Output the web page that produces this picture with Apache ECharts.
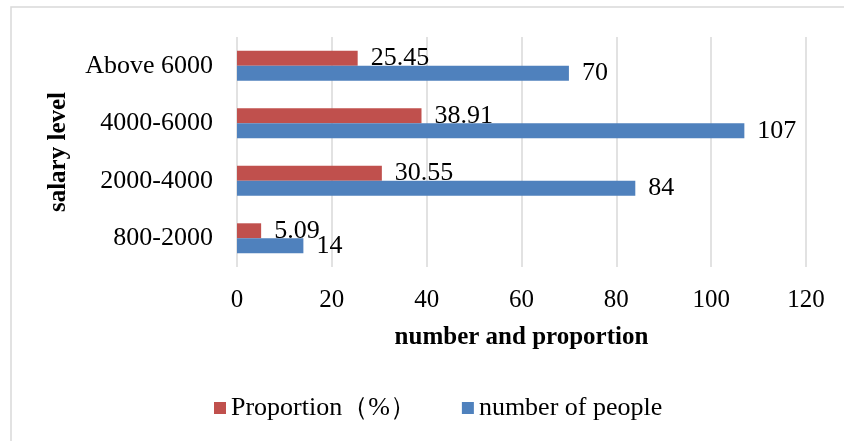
<!DOCTYPE html>
<html>
<head>
<meta charset="utf-8">
<script src="https://cdn.jsdelivr.net/npm/echarts@6/dist/echarts.min.js"></script>
<style>
  html, body { margin: 0; padding: 0; background: #fff; }
  #chart { width: 844px; height: 441px; }
</style>
</head>
<body>
<div id="chart"></div>
<script>
// salary levels, bottom to top
const categories = ['800-2000', '2000-4000', '4000-6000', 'Above 6000']
const proportion = [5.09, 30.55, 38.91, 25.45]
const people = [14, 84, 107, 70]
const xTicks = [0, 20, 40, 60, 80, 100, 120]

const serif = '"Liberation Serif", "Times New Roman", serif'
const red = '#C0504D'
const blue = '#4F81BD'

const chart = echarts.init(document.getElementById('chart'))

const barLabel = {
  show: true,
  position: 'right',
  distance: 13,
  color: '#000',
  fontFamily: serif,
  fontSize: 26
}

chart.setOption({
  animation: false,
  graphic: [{
    type: 'rect',
    shape: { x: 11, y: 7, width: 900, height: 500 },
    style: { fill: 'none', stroke: '#d9d9d9', lineWidth: 1.5 },
    silent: true
  }],
  grid: { left: 237, right: 38, top: 37, bottom: 174 },
  legend: {
    data: ['Proportion（%）', 'number of people'],
    left: 209,
    top: 390,
    icon: 'rect',
    itemWidth: 12,
    itemHeight: 12,
    itemGap: 46,
    textStyle: { fontFamily: serif, fontSize: 26, color: '#000' }
  },
  xAxis: {
    type: 'value',
    min: xTicks[0],
    max: xTicks[xTicks.length - 1],
    interval: 20,
    name: 'number and proportion',
    nameLocation: 'middle',
    nameGap: 58,
    nameTextStyle: { fontFamily: serif, fontSize: 25, fontWeight: 'bold', color: '#000' },
    axisLine: { show: false },
    axisTick: { show: false },
    axisLabel: { margin: 21, fontFamily: serif, fontSize: 25, color: '#000' },
    splitLine: { show: true, lineStyle: { color: '#d9d9d9', width: 1.5 } }
  },
  yAxis: {
    type: 'category',
    data: categories,
    name: 'salary level',
    nameLocation: 'middle',
    nameGap: 166,
    nameTextStyle: { fontFamily: serif, fontSize: 25, fontWeight: 'bold', color: '#000' },
    axisLine: { show: false },
    axisTick: { show: false },
    axisLabel: { margin: 24, fontFamily: serif, fontSize: 26, color: '#000' }
  },
  series: [
    {
      name: 'Proportion（%）',
      type: 'bar',
      data: proportion,
      itemStyle: { color: red },
      barGap: '0%',
      barCategoryGap: '48%',
      label: barLabel
    },
    {
      name: 'number of people',
      type: 'bar',
      data: people,
      itemStyle: { color: blue },
      barGap: '0%',
      barCategoryGap: '48%',
      label: barLabel
    }
  ]
})
</script>
</body>
</html>
